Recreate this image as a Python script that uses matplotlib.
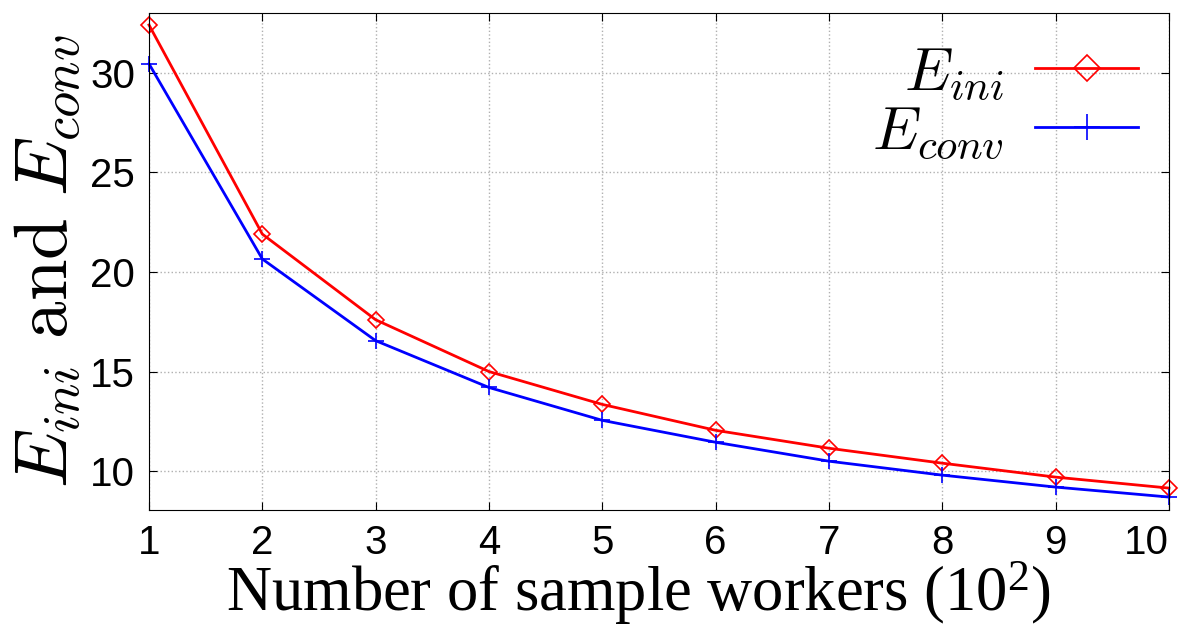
import matplotlib.pyplot as plt

workers = [1, 2, 3, 4, 5, 6, 7, 8, 9, 10]
e_ini = [32.4, 21.9, 17.6, 15.0, 13.35, 12.05, 11.15, 10.4, 9.7, 9.15]
e_conv = [30.45, 20.65, 16.55, 14.2, 12.55, 11.45, 10.5, 9.8, 9.2, 8.7]
y_ticks = [10, 15, 20, 25, 30]

plt.rcParams['mathtext.fontset'] = 'cm'

fig = plt.figure(figsize=(11.89, 6.34), dpi=100)
ax = fig.add_axes([149 / 1189, 1 - 510 / 634, 1020 / 1189, 497 / 634])

ax.plot(workers, e_ini, color='red', lw=2, marker='D', ms=8, mfc='none',
        mec='red', mew=1.2, label=r'$E_{ini}$', clip_on=False)
ax.plot(workers, e_conv, color='blue', lw=2, marker='+', ms=12, mew=1.2,
        label=r'$E_{conv}$', clip_on=False)

ax.set_xlim(1, 10)
ax.set_ylim(8.05, 33)
ax.set_xticks(workers)
ax.set_yticks(y_ticks)
ax.grid(True, color='#b0b0b0', ls=':', lw=1)
ax.tick_params(direction='in', top=True, right=True, length=6,
               labelsize=29, pad=10)
for lab in ax.get_xticklabels() + ax.get_yticklabels():
    lab.set_family('Liberation Sans')
ax.get_xticklabels()[-1].set_horizontalalignment('right')
ax.get_xticklabels()[-1].set_x(10.12)

ax.set_xlabel(r'Number of sample workers ($\mathregular{10^2}$)',
              family='Liberation Serif', fontsize=45)
ax.xaxis.set_label_coords(0.48, -0.1)
ax.set_ylabel(r'$E_{ini}\ \mathrm{and}\ E_{conv}$', fontsize=54, labelpad=4)

leg = ax.legend(loc='upper right', frameon=False, markerfirst=False,
                fontsize=44, handlelength=1.7, borderaxespad=0.1,
                labelspacing=0.0, handletextpad=0.5, markerscale=1.6)

fig.savefig('out.png', dpi=100)
